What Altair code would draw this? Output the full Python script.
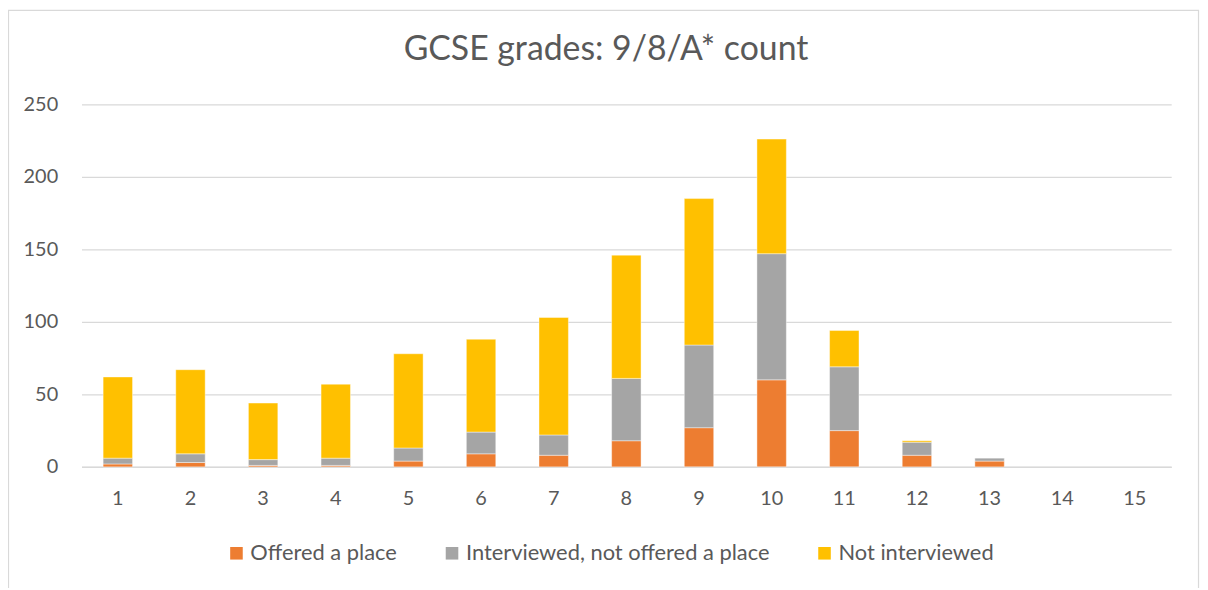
import altair as alt
import pandas as pd

categories = [str(i) for i in range(1, 16)]
offered = [2, 3, 1, 1, 4, 9, 8, 18, 27, 60, 25, 8, 4, 0, 0]
interviewed = [4, 6, 4, 5, 9, 15, 14, 43, 57, 87, 44, 9, 2, 0, 0]
not_interviewed = [56, 58, 39, 51, 65, 64, 81, 85, 101, 79, 25, 1, 0, 0, 0]

series = ["Offered a place", "Interviewed, not offered a place", "Not interviewed"]
colors = ["#ED7D31", "#A5A5A5", "#FFC000"]
title_text = "GCSE grades: 9/8/A* count"

rows = []
for i, c in enumerate(categories):
    for k, (name, vals) in enumerate(zip(series, [offered, interviewed, not_interviewed])):
        rows.append({"grade": c, "series": name, "value": vals[i], "order": k})
df = pd.DataFrame(rows)

FONT = "Lato"
TXT = "#595959"

bars = alt.Chart(df).transform_filter("datum.value > 0").mark_bar(
    stroke="white", strokeWidth=0.6, strokeOpacity=0.7
).encode(
    x=alt.X("grade:N", sort=categories, title=None,
            scale=alt.Scale(domain=categories, paddingInner=0.595, paddingOuter=0.2975),
            axis=alt.Axis(labelAngle=0, ticks=False, labelPadding=22, domainColor="#d9d9d9",
                          domainWidth=1.5, labelFontSize=20, labelColor=TXT, labelFont=FONT)),
    y=alt.Y("value:Q", stack="zero", title=None,
            scale=alt.Scale(domain=[0, 250], nice=False),
            axis=alt.Axis(values=[0, 50, 100, 150, 200, 250], ticks=False, domain=False,
                          labelPadding=24, gridColor="#d9d9d9", gridWidth=1.2,
                          labelFontSize=20, labelColor=TXT, labelFont=FONT)),
    color=alt.Color("series:N", sort=series,
                    scale=alt.Scale(domain=series, range=colors),
                    legend=alt.Legend(title=None, orient="none", direction="horizontal",
                                      legendX=145, legendY=441, symbolType="square",
                                      symbolSize=160, symbolStrokeWidth=0, labelOffset=3,
                                      columnPadding=44, labelLimit=500, labelFontSize=22,
                                      labelColor=TXT, labelFont=FONT)),
    order=alt.Order("order:Q", sort="ascending"),
)

border = alt.Chart(pd.DataFrame({"a": [0]})).mark_rect(
    fill=None, stroke="#d9d9d9", strokeWidth=1.2
).encode(
    x=alt.value(-73.5), x2=alt.value(1124.5), y=alt.value(-94.5), y2=alt.value(600)
)

title = alt.Chart(pd.DataFrame({"t": [title_text]})).mark_text(
    font=FONT, fontSize=34, color=TXT, align="center", baseline="middle"
).encode(
    text="t:N", x=alt.value(528), y=alt.value(-55)
)

chart = alt.layer(border, bars, title).properties(
    width=1097,
    height=365,
    padding={"left": 74, "top": 95, "right": 29, "bottom": 120},
    autosize=alt.AutoSizeParams(type="none"),
).configure_view(stroke=None)

chart.save("out.html", embed_options={"renderer": "svg", "actions": False})
